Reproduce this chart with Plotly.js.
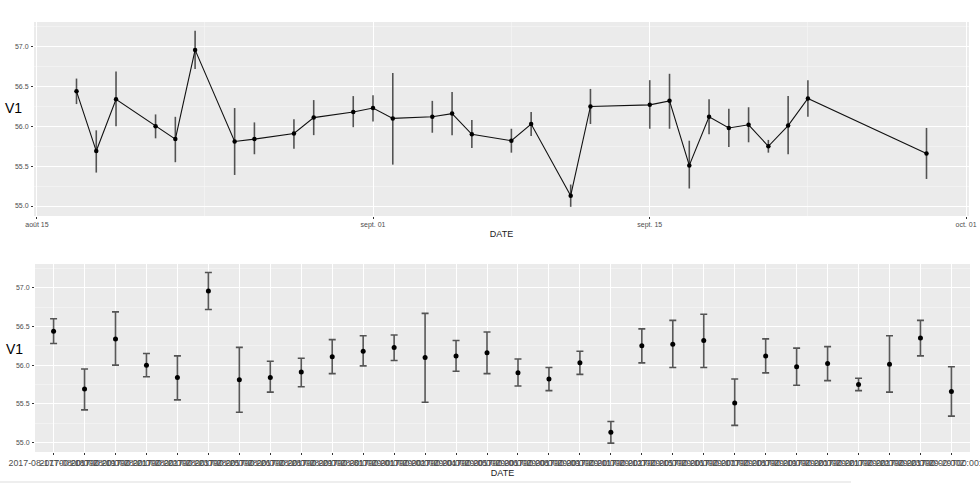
<!DOCTYPE html>
<html>
<head>
<meta charset="utf-8">
<script src="https://cdn.plot.ly/plotly-3.0.1.min.js"></script>
<style>html,body{margin:0;padding:0;background:#fff;}#chart{width:980px;height:484px;}</style>
</head>
<body>
<div id="chart"></div>
<script>
const dates = ['2017-08-17','2017-08-18','2017-08-19','2017-08-21','2017-08-22','2017-08-23','2017-08-25','2017-08-26','2017-08-28','2017-08-29','2017-08-31',
  '2017-09-01','2017-09-02','2017-09-04','2017-09-05','2017-09-06','2017-09-08','2017-09-09','2017-09-11','2017-09-12','2017-09-15','2017-09-16','2017-09-17','2017-09-18','2017-09-19','2017-09-20','2017-09-21','2017-09-22','2017-09-23','2017-09-29'];
const v1 = [56.44,55.69,56.34,56.00,55.84,56.96,55.81,55.84,55.91,56.11,56.18,56.23,56.10,56.12,56.16,55.90,55.82,56.03,55.13,56.25,56.27,56.32,55.51,56.12,55.98,56.02,55.75,56.01,56.35,55.66];
const upper = [56.60,55.95,56.69,56.15,56.12,57.20,56.23,56.05,56.09,56.33,56.38,56.39,56.67,56.32,56.43,56.08,55.97,56.18,55.27,56.47,56.58,56.66,55.82,56.34,56.22,56.24,55.83,56.38,56.58,55.98];
const lower = [56.28,55.42,56.00,55.85,55.55,56.72,55.39,55.65,55.72,55.89,55.99,56.06,55.52,55.92,55.89,55.73,55.67,55.88,54.99,56.03,55.97,55.97,55.22,55.90,55.74,55.80,55.67,55.65,56.12,55.34];
const dateTickVals = ['2017-08-15','2017-09-01','2017-09-15','2017-10-01'];
const dateTickText = ['août 15','sept. 01','sept. 15','oct. 01'];
const yTickVals = [55.0,55.5,56.0,56.5,57.0];
const yTickText = ['55.0','55.5','56.0','56.5','57.0'];
const catLabels = dates.map(d => d + 'T00:00:00Z');

const errPlus = upper.map((u,i) => u - v1[i]);
const errMinus = lower.map((l,i) => v1[i] - l);

const FONT = 'Liberation Sans, Arial, sans-serif';
const W = 980, H = 484;

const traces = [
  {
    x: dates, y: v1, type: 'scatter', mode: 'lines+markers',
    xaxis: 'x', yaxis: 'y',
    line: {color: '#111', width: 1.1},
    marker: {color: '#000', size: 4.5},
    error_y: {type: 'data', symmetric: false, array: errPlus, arrayminus: errMinus,
      color: 'rgba(0,0,0,0.65)', thickness: 1.6, width: 0},
    hoverinfo: 'x+y'
  },
  {
    x: catLabels, y: v1, type: 'scatter', mode: 'markers',
    xaxis: 'x2', yaxis: 'y2',
    marker: {color: '#000', size: 5},
    error_y: {type: 'data', symmetric: false, array: errPlus, arrayminus: errMinus,
      color: 'rgba(0,0,0,0.65)', thickness: 1.6, width: 3.5},
    hoverinfo: 'x+y'
  }
];

const yCommon = {
  range: [54.875, 57.31],
  tickmode: 'array', tickvals: yTickVals, ticktext: yTickText,
  ticks: 'outside', ticklen: 2, tickcolor: '#333', tickwidth: 1,
  tickfont: {family: FONT, size: 7, color: '#4D4D4D'},
  showgrid: true, gridcolor: '#FFFFFF', gridwidth: 1,
  minor: {tickmode: 'linear', tick0: 55.25, dtick: 0.5, showgrid: true, gridcolor: '#F7F7F7', gridwidth: 0.6, ticks: ''},
  zeroline: false, showline: false, ticklabelstandoff: 1
};

const layout = {
  width: W, height: H,
  margin: {l: 0, r: 0, t: 0, b: 0},
  paper_bgcolor: '#FFFFFF',
  plot_bgcolor: '#EBEBEB',
  showlegend: false,
  font: {family: FONT},
  xaxis: {
    domain: [34/W, 969/W], anchor: 'y', type: 'date',
    range: ['2017-08-14 20:24', '2017-10-01 03:36'],
    tickmode: 'array', tickvals: dateTickVals, ticktext: dateTickText,
    ticks: 'outside', ticklen: 2, tickcolor: '#333',
    tickfont: {family: FONT, size: 7, color: '#4D4D4D'},
    showgrid: true, gridcolor: '#FFFFFF', gridwidth: 1,
    minor: {tickmode: 'array', tickvals: ['2017-08-23 12:00','2017-09-08','2017-09-23'], showgrid: true, gridcolor: '#F7F7F7', gridwidth: 0.6, ticks: ''},
    zeroline: false, showline: false,
    title: {text: 'DATE', font: {family: FONT, size: 9, color: '#222'}, standoff: 2}
  },
  yaxis: Object.assign({}, yCommon, {domain: [1 - 216/H, 1 - 22/H], anchor: 'x'}),
  xaxis2: {
    domain: [35/W, 970/W], anchor: 'y2', type: 'category',
    range: [-0.6, 29.6],
    ticks: 'outside', ticklen: 2, tickcolor: '#333', tickangle: 0,
    tickfont: {family: FONT, size: 8.8, color: '#4D4D4D'},
    showgrid: true, gridcolor: '#FFFFFF', gridwidth: 1,
    zeroline: false, showline: false,
    title: {text: 'DATE', font: {family: FONT, size: 9, color: '#222'}, standoff: 1}
  },
  yaxis2: Object.assign({}, yCommon, {domain: [1 - 452/H, 1 - 264/H], anchor: 'x2'}),
  annotations: [
    {text: 'V1', xref: 'paper', yref: 'paper', x: 3/W, y: 1 - 108/H, xanchor: 'left', yanchor: 'middle',
     showarrow: false, font: {family: FONT, size: 14, color: '#000'}},
    {text: 'V1', xref: 'paper', yref: 'paper', x: 4/W, y: 1 - 349/H, xanchor: 'left', yanchor: 'middle',
     showarrow: false, font: {family: FONT, size: 14, color: '#000'}}
  ],
  shapes: [
    {type: 'line', xref: 'paper', yref: 'paper', x0: 0, x1: 851/W, y0: 1 - 482/H, y1: 1 - 482/H,
     line: {color: '#DDDDDD', width: 1}}
  ]
};

Plotly.newPlot('chart', traces, layout, {staticPlot: true, displayModeBar: false});
</script>
</body>
</html>
